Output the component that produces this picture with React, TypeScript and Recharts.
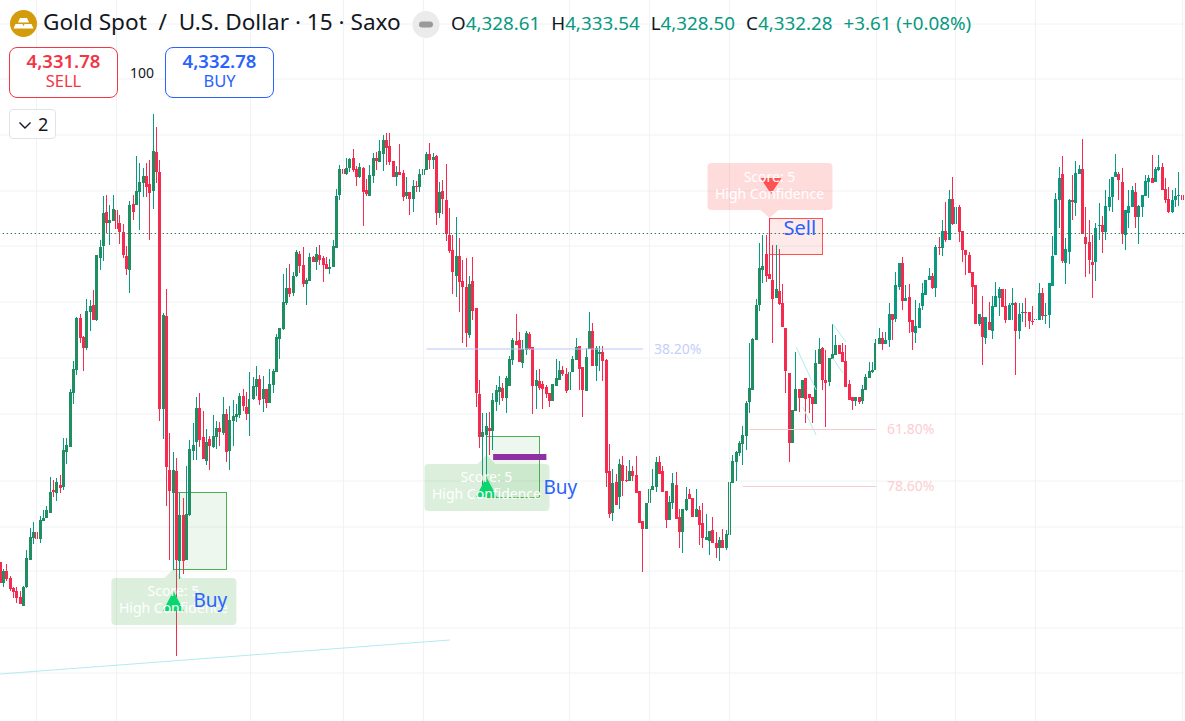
import React from "react";
import { ComposedChart, Bar, XAxis, YAxis, CartesianGrid, ReferenceLine, ReferenceArea, ReferenceDot } from "recharts";

const UP = "#089981";
const UP_BODY = "#1f8f62";
const DOWN = "#f42b4f";
const FONT = "'Noto Sans', sans-serif";

type Row = [number, number, number, number];

// open, high, low, close
const firstRally: Row[] = [
[4299.8,4299.8,4297.7,4297.7],[4297.7,4299.1,4297.3,4298.9],[4298.9,4299.6,4297.9,4298.1],[4298.2,4298.4,4296.9,4297.1],[4297.2,4297.3,4296.2,4296.8],[4296.9,4297.3,4295.7,4296.2],[4296.3,4296.9,4295.6,4295.6],[4295.4,4297.4,4295.4,4297.3],[4297.3,4301,4297.2,4300.2],[4300,4303.2,4300,4302.3],
[4302.2,4303.8,4301.6,4302.8],[4302.8,4303.7,4301.6,4302.1],[4302.1,4304.4,4301.7,4304],[4303.9,4305,4303.9,4304.2],[4304.2,4305.4,4304.2,4305],[4304.7,4308.3,4304.7,4306.8],[4307,4308,4306.3,4306.8],[4306.7,4308.2,4305.9,4307.8],[4307.5,4308.5,4306.7,4307.2],[4307.3,4312.2,4307,4311],
[4310.8,4312.2,4309.6,4311.5],[4311.3,4317.1,4311.3,4316.8],[4316.7,4319.9,4315.6,4319.1],[4319,4324.3,4318.5,4324.2],[4324.2,4324.6,4321.7,4322.2],[4322.3,4322.4,4318.9,4321.2],[4321.2,4326.1,4321,4324.9],[4324.8,4326,4322.9,4325.4],[4325.5,4327,4324,4324],[4324,4330.5,4323.9,4330.5],
[4330.2,4332,4329,4331.3],[4331.4,4336.4,4329.9,4334.7],[4334.8,4336.5,4332.7,4333.7],[4333.7,4335.5,4331.5,4334],[4333.9,4336.5,4333.9,4335.1],[4335,4336.5,4332.5,4333.1],[4333.7,4334.5,4331.6,4332.8],[4332.8,4333.6,4330.2,4330.5],[4330.4,4331.4,4328.5,4329.1],[4329,4335.9,4326.7,4335.5],
[4335.6,4336.5,4334,4334.8],[4335.5,4340.4,4335.5,4336.9],[4336.8,4339.7,4333,4337.8],[4337.7,4339.2,4336.3,4338.4],[4338.4,4339.7,4336.3,4337.3],[4337.6,4340,4332,4336.7],[4336.9,4344.6,4335.1,4340.9],[4340.8,4343.3,4337.7,4338.8],
];
const firstCrash: Row[] = [
[4338.8,4340,4313.9,4315.1],[4315.1,4324.7,4312.1,4324.5],[4324.4,4327.1,4305.4,4309.3],[4309,4312.7,4300,4306.9],[4306.7,4310.8,4299,4309],[4308.9,4310.2,4290.4,4300],[4299.9,4306.7,4298.1,4304.5],[4304.5,4306.2,4298.6,4299.9],[4300,4309.4,4300,4304.6],[4304.5,4312,4304.4,4311.1],
[4310.9,4313.7,4310,4311.5],[4311.8,4316.3,4310,4315.2],[4315.2,4316.7,4311.3,4312],[4312.3,4314.9,4310.1,4310.1],[4309.9,4313.1,4309.5,4311.8],[4312.1,4312.4,4309,4311.4],[4311.3,4314.5,4311.2,4312.4],[4312.3,4313.9,4311.1,4313.2],[4313.2,4313.8,4311.4,4312.8],[4312.7,4316.3,4312.5,4314.6],
[4314.6,4315.1,4309.8,4310.8],[4310.9,4315.4,4309,4314],[4313.9,4316,4311.4,4314.4],[4314.3,4315.6,4313.8,4314.6],[4314.5,4316.7,4314.2,4316.4],[4316.4,4317.1,4314.9,4315.4],[4315.3,4316.8,4314,4314.6],[4314.6,4318.8,4312.4,4316.1],[4316.1,4318.3,4316,4317.4],[4317.3,4319.4,4316.4,4318.1],
[4318.1,4318.5,4315.5,4316],[4316.1,4318.4,4314.8,4317.1],[4317.1,4317.1,4315.2,4315.7],[4315.7,4319.1,4315.7,4317.6],[4317.5,4319.1,4316.7,4318.9],[4318.8,4322.6,4318.8,4322.3],[4322.1,4323.2,4320.1,4323.2],[4323.1,4328.6,4323,4325.8],[4325.7,4329.2,4325.5,4327.2],[4327.2,4329.6,4326.3,4326.6],
[4326.7,4328.8,4326.4,4328.4],[4328.4,4331,4328.3,4330.8],[4330.6,4330.9,4328.7,4329.4],[4329.5,4331.3,4327.3,4327.6],[4327.6,4328.2,4325.5,4328],[4327.9,4330.7,4327.9,4330.3],[4330.3,4330.4,4329.8,4329.8],[4329.8,4331.3,4329,4330.6],[4330.5,4331.5,4329.5,4330],[4330.2,4330.4,4327.8,4329.5],
[4329.6,4330.3,4329.1,4329.1],[4329.1,4330.1,4328.6,4329.3],
];
const secondTop: Row[] = [
[4329.3,4332,4329.3,4331.4],[4331.2,4337.1,4331.2,4336.4],[4336.5,4339.5,4336,4339.1],[4339.1,4340.2,4336.7,4338.6],[4338.6,4340.2,4338.5,4339.2],[4339.2,4340.2,4338.8,4340.1],[4340.2,4341.1,4338.8,4339],[4339.1,4339.4,4337.4,4338.3],[4338.3,4339.7,4338.2,4339.3],[4339.2,4339.3,4333.4,4336.8],
[4337,4338.1,4336.4,4336.6],[4336.4,4339.5,4336.4,4338.5],[4338.4,4340.7,4337.7,4340.2],[4340.2,4340.8,4339,4339.9],[4339.8,4342,4339.8,4340.9],[4340.6,4342.5,4338.9,4342],[4342,4342.7,4339.5,4341.2],[4341.4,4342.7,4339.5,4339.8],[4339.9,4339.9,4338.3,4338.3],[4338.3,4339.4,4337.4,4338.8],
[4338.8,4341.6,4338.5,4338.5],[4338.7,4339,4335.9,4336.3],[4336.4,4338.3,4336.1,4336.8],[4336.8,4336.8,4334.5,4336.1],[4336.1,4338,4334.8,4337.4],[4337.4,4337.9,4336.8,4337.3],[4337.3,4339.1,4336.8,4338.6],[4338.5,4339.1,4338.5,4339.1],[4339,4340.8,4339,4340.6],[4340.6,4341.7,4339.1,4340],
[4340,4340.7,4339.1,4340.3],
];
const secondDrop: Row[] = [
[4340.4,4340.5,4333.5,4334.7],[4334.7,4337.8,4334.2,4336.8],[4336.9,4338,4334.6,4336.1],[4336,4339.6,4331.9,4332.6],[4332.5,4335.2,4330.7,4330.9],[4331,4332.5,4326.6,4328.8],[4328.4,4334.3,4326.3,4330.4],[4330.4,4332.2,4324.8,4327.8],[4327.9,4330,4321.7,4327.3],[4327.3,4330.2,4321.3,4322.7],
[4322.5,4328.4,4322.2,4327.6],[4327.9,4330.3,4324,4324.9],[4325.2,4325.2,4315.3,4316.7],[4316.6,4318,4311.2,4312.3],[4312.3,4314.7,4307.3,4312.8],[4312.5,4314.7,4307.3,4313.4],[4313.2,4314.8,4310.5,4312.9],[4312.9,4316.7,4311,4316],[4315.8,4317.5,4314.9,4317],[4316.8,4318.4,4315.5,4317.3],
[4317.2,4317.7,4315.9,4316.2],[4316.2,4318.4,4314.7,4318.2],[4317.4,4320.4,4317.4,4320.1],[4320,4322.2,4319.5,4322],[4321.9,4324.6,4321.5,4321.5],[4322,4322.8,4319.8,4319.8],[4319.7,4322,4319.2,4321.1],[4321,4322.9,4320.5,4322.7],[4322.6,4322.8,4321,4321.1],[4321.3,4321.3,4314.6,4317.4],
[4317.4,4319,4315.1,4318],[4317.9,4319.1,4317,4317.2],[4317.6,4317.9,4315.1,4317.1],[4317.3,4317.5,4316.2,4316.6],[4316.7,4316.7,4315.3,4315.9],[4315.9,4317.6,4315.9,4317.6],[4317.4,4320.1,4317.4,4318.2],[4318,4319.9,4318,4319],[4319,4319.4,4318.4,4318.6],[4318.6,4319.2,4316.7,4316.9],
[4317,4320.1,4316.2,4318.8],[4318.8,4320.4,4318.8,4320.1],[4320,4322.2,4320,4321.3],[4321.4,4321.4,4317,4319.1],[4319.3,4319.3,4314.3,4317],[4316.9,4321.2,4316.9,4320.3],[4321.1,4324.8,4321.1,4322.9],[4322.9,4323.7,4319.4,4319.4],[4319.4,4321.4,4317.9,4321.2],[4320.6,4321.4,4318.9,4320.8],
[4320.8,4321.4,4317.9,4319.9],
];
const thirdBase: Row[] = [
[4320,4320.1,4307.3,4308.7],[4308.9,4311.6,4304.2,4304.6],[4304.7,4309.1,4303.9,4307.7],[4307.8,4308.6,4305.5,4305.5],[4306.3,4310.1,4305.1,4309.6],[4309.5,4310.4,4306.4,4307.9],[4308,4309.4,4307.8,4307.9],[4307.9,4310,4307.9,4308.9],[4308.9,4309.4,4307.9,4308.4],[4308.5,4310.4,4306.7,4306.7],
[4306.9,4306.9,4303.7,4303.7],[4303.9,4303.9,4298.8,4303.1],[4303.1,4305.7,4303.1,4305.7],[4305.7,4308.3,4304.9,4307.1],[4307,4309.1,4307,4307.4],[4307.3,4310.3,4306.8,4309.8],[4309.8,4310.4,4308.6,4308.6],[4308.9,4309.4,4306.8,4306.8],[4306.9,4306.9,4303.2,4304],[4304,4306.4,4304,4305.8],
[4305.7,4308.7,4305.1,4307.7],[4307.5,4308.8,4304.1,4304.1],[4304.3,4305.1,4301.2,4302.8],[4302.8,4305.1,4300.7,4305.1],[4305,4307.3,4304.9,4306.1],[4306.6,4307.1,4306.1,4306.1],[4306.2,4306.2,4304.3,4304.3],[4304.3,4307.1,4304.3,4305.1],[4305,4305.4,4301.5,4303.5],[4303.7,4305.7,4301.2,4302.2],
[4302,4304.6,4302,4302.3],[4301.9,4302.9,4300.5,4302.9],[4303,4304.3,4301.7,4301.7],[4301.7,4302.8,4300.2,4301.2],[4301.2,4302.3,4299.9,4302],[4302,4303.1,4301.2,4301.2],[4301.2,4303,4301,4302.6],
];
const vRecovery: Row[] = [
[4302.5,4308.4,4301.6,4307.8],[4307.7,4310.5,4307.7,4309.9],[4309.8,4310.9,4307.9,4310.8],[4310.7,4311.9,4310.4,4311.7],[4311.6,4313.4,4309.5,4312.5],[4312.4,4315.9,4311,4315.7],[4315.8,4321.7,4314.7,4317.2],[4317,4322.2,4317,4322.1],[4322,4326.1,4322,4325.5],[4325.5,4331.7,4324.9,4329.2],
[4329,4332.5,4327.7,4329.4],[4330.6,4332.5,4327.8,4328.4],[4328.6,4334.2,4328.1,4328.1],[4328,4331.5,4321.7,4326.1],[4326.2,4331.5,4326.2,4327.1],[4326.9,4331.1,4325.5,4325.6],[4325.7,4327.6,4323.3,4323.3],[4323.2,4323.2,4316.7,4318.9],[4318.7,4318.7,4309.8,4311.7],[4311.7,4315,4311.7,4315],
[4314.9,4320.8,4314.9,4317.1],[4317.1,4317.1,4314.8,4316.2],[4316.2,4318,4316.2,4318],[4318.2,4318.2,4313.7,4316.1],[4316.6,4316.6,4314.7,4316.2],[4316.3,4316.3,4313.7,4315.6],[4315.6,4321,4315.6,4319.7],[4319.6,4322.2,4319.6,4321.1],[4321.2,4321.3,4317,4318],[4318,4321,4313.3,4317.7],
[4317.8,4320.2,4317.4,4320.2],[4320.1,4323.6,4320.1,4320.6],[4320.5,4322.5,4320.5,4321.5],[4321.5,4321.5,4320.6,4320.6],[4320.8,4321.7,4319.8,4319.8],[4319.9,4321.5,4317.3,4317.3],[4317.6,4318,4316,4316],[4316.3,4316.3,4315,4315.9],[4315.9,4316.3,4315.4,4316.3],[4316.3,4316.3,4315.6,4315.8],
[4315.9,4317.5,4315.6,4317.1],[4317,4318.6,4317,4318.3],[4318.2,4319.8,4318.2,4318.9],[4318.8,4319.8,4318.7,4319],[4319,4322.1,4319,4321.7],[4321.6,4323.2,4321.6,4322.2],[4322.2,4322.8,4321,4321.6],[4321.6,4322.8,4321.6,4322],
];
const lateClimb: Row[] = [
[4322,4325.7,4321.3,4324.6],[4324.6,4324.6,4322,4324],[4324.1,4328.8,4323.8,4327.5],[4327.3,4329.7,4327,4329.7],[4329.7,4330.3,4325,4325.9],[4325.9,4327.5,4325.9,4326.2],[4326.3,4327.6,4322.7,4323.8],[4324,4324,4321,4322.8],[4322.7,4326,4321.7,4323.4],[4323.2,4325.7,4323.2,4325.2],
[4325.4,4327.7,4325,4326.7],[4326.5,4328,4326.5,4328],[4328,4329.2,4328,4328.4],[4328.4,4328.7,4327.1,4327.2],[4327.2,4331.5,4326.3,4331.3],[4331.3,4332.3,4330.5,4331.2],[4331.2,4334,4330.4,4332.9],[4332.9,4335.8,4331.8,4332],[4332,4337,4332,4336.1],[4336.1,4338.3,4333.5,4333.6],
[4333.6,4335.5,4332.4,4335.3],[4335.3,4335.5,4331.8,4332.8],[4332.9,4332.9,4329.8,4331],[4331,4331,4328.5,4330.5],[4330.5,4330.8,4328.7,4328.7],[4328.8,4328.8,4325.6,4327.3],[4327.5,4327.5,4323.6,4323.6],[4323.6,4324.6,4323.4,4324.6],[4324.3,4326.4,4319.5,4322.3],[4322.2,4324.3,4321.6,4324.3],
[4323.8,4325.8,4323,4323],[4322.9,4326.4,4322.1,4325.4],[4325.3,4327.8,4325.3,4326.4],[4326.2,4327.3,4324.4,4327.1],[4327.1,4327.1,4325.3,4325.3],[4325.4,4327.1,4323.7,4324],[4324,4325.7,4324,4325.5],[4325.5,4327.2,4324,4325.7],[4325.7,4325.8,4318.5,4322.9],[4322.9,4325.7,4322.1,4324.6],
[4324.7,4325.7,4323.8,4324.8],[4324.8,4326.2,4323.3,4324.7],[4324.8,4324.8,4323.1,4323.9],[4323.9,4325.4,4323.5,4323.8],[4324,4324.7,4323,4324.1],[4324,4327.7,4324,4326.7],[4326.7,4327.2,4324,4324.4],[4324.4,4325.7,4323.6,4324.5],[4324.5,4327.7,4323.2,4327.7],
];
const finalRange: Row[] = [
[4327.4,4332.4,4327.4,4330.4],[4330.5,4336.7,4330.5,4336.1],[4336,4339.3,4333.2,4338.2],[4338.6,4340.4,4329.7,4329.9],[4329.7,4332.2,4327.6,4331.1],[4330.8,4336.1,4329.6,4336],[4336,4338.5,4334,4335.8],[4335.7,4339.9,4334.4,4338.7],[4338.6,4339.5,4338.6,4339.1],[4339.1,4342.1,4332.6,4332.6],
[4332.3,4335.3,4328.3,4331.6],[4331.8,4334,4328.6,4330],[4329.8,4332.5,4326.2,4329.5],[4329.8,4333.7,4327.9,4333.2],[4333.4,4335.7,4332,4333.5],[4333.5,4334.4,4330.7,4332.8],[4332.8,4337,4332,4335.4],[4335.3,4338.1,4334.9,4336.3],[4336.3,4338.3,4334.8,4338.3],[4338.3,4340.6,4338.3,4338.8],
[4338.6,4338.8,4336,4338],[4337.8,4339.2,4331.6,4332.6],[4332.5,4335,4331,4335],[4334.7,4337,4333.2,4335.4],[4335.3,4337.4,4335.3,4337],[4336.8,4337.7,4333.2,4334.3],[4334.3,4335.5,4331.6,4335.4],[4335.3,4336.5,4334.3,4336.5],[4336.4,4338.5,4336.4,4337.9],[4337.8,4338.5,4336.2,4338.2],
[4338.2,4340.5,4337.7,4337.7],[4337.8,4339.3,4337.8,4339.1],[4339,4340.5,4338.9,4339.3],[4339.3,4339.7,4337,4337],[4337.1,4338.2,4335.7,4336],[4336.1,4337.3,4334.7,4334.8],[4334.8,4337,4334.7,4336],[4336,4337.2,4335.3,4336.4],[4336.4,4338.8,4335.4,4336.5],[4336.5,4337.7,4335.2,4336],
];

const rows: Row[] = [...firstRally, ...firstCrash, ...secondTop, ...secondDrop, ...thirdBase, ...vRecovery, ...lateClimb, ...finalRange];
const data = rows.map(([o, h, l, c], i) => ({ i, o, h, l, c, range: [l, h] }));

const priceGrid = [4353.6, 4348.1, 4342.5, 4336.9, 4331.4, 4325.8, 4320.2, 4314.6, 4307.9, 4303.3, 4298.9, 4293.2, 4288.7];
const timeGrid = [11, 35, 75, 103, 127, 171, 195, 219, 263, 287, 311, 355];
const currentPrice = 4332.65;
const GRID = "#f1f2f4";

const legend = { symbol: "Gold Spot  /  U.S. Dollar · 15 · Saxo", o: "4,328.61", h: "4,333.54", l: "4,328.50", c: "4,332.28", change: "+3.61 (+0.08%)" };
const sellPrice = "4,331.78";
const buyPrice = "4,332.78";
const quantity = "100";
const indicatorCount = "2";

function Candle(props: any) {
  const { x, y, width, height, payload } = props;
  const { i, o, h, l, c } = payload;
  const unit = h > l ? height / (h - l) : 0;
  const up = c >= o;
  const cx = Math.floor(x + width / 2);
  const top = y + (h - Math.max(o, c)) * unit;
  const bh = Math.max(1, Math.abs(c - o) * unit);
  return (
    <g shapeRendering="crispEdges">
      <rect x={cx} y={y} width={1} height={Math.max(1, height)} fill={up ? UP : DOWN} />
      <rect x={cx - 1} y={top} width={3} height={bh} fill={up ? (i < 266 ? UP_BODY : UP) : DOWN} />
    </g>
  );
}

function ZoneRect(props: any) {
  const { x, y, width, height, fill, stroke } = props;
  return <rect x={Math.round(x + 1.6) + 0.5} y={Math.round(y) + 0.5} width={Math.round(width - 3.2)} height={Math.round(height)} fill={fill} fillOpacity={props.fillOpacity} stroke={stroke} />;
}

const GREEN_BOX = "rgba(76,175,80,0.2)";
const RED_BOX = "rgba(255,82,82,0.2)";

function ScoreBox({ cx, cy, down }: any) {
  const fill = down ? RED_BOX : GREEN_BOX;
  const near = down ? cy - 8 : cy + 9;
  const boxTop = down ? cy - 55 : cy + 9;
  return (
    <g>
      <rect x={cx - 62} y={boxTop} width={125} height={47} rx={4} fill={fill} />
      <path d={`M${cx} ${cy} L${cx - 9} ${near} L${cx + 9} ${near} Z`} fill={fill} />
      {down ? (
        <path d={`M${cx - 9} ${boxTop + 15} L${cx + 12} ${boxTop + 15} L${cx + 1.5} ${boxTop + 31} Z`} fill="#ff5252" />
      ) : (
        <path d={`M${cx - 10.5} ${boxTop + 33} L${cx + 10.5} ${boxTop + 33} L${cx} ${boxTop + 13} Z`} fill="#0ad66f" />
      )}
      <text x={cx} y={boxTop + (down ? 19 : 18)} textAnchor="middle" fontFamily={FONT} fontSize={14} fill="#fff">Score: 5</text>
      <text x={cx} y={boxTop + (down ? 36 : 35)} textAnchor="middle" fontFamily={FONT} fontSize={14} fill="#fff">High Confidence</text>
    </g>
  );
}

const Lbl = (txt: string, dx: number, color: string, size: number) => (p: any) => (
  <text x={p.cx + dx} y={p.cy + size * 0.35} fontFamily={FONT} fontSize={size} fill={color}>{txt}</text>
);

const abs = (left: number, top: number, extra: any = {}): any => ({ position: "absolute", left, top, whiteSpace: "pre", fontFamily: FONT, lineHeight: 1, ...extra });

function Legend() {
  const g = { color: UP };
  return (
    <>
      <svg style={{ position: "absolute", left: 10, top: 10 }} width={27} height={27}>
        <circle cx={13.5} cy={13.5} r={13.5} fill="#d49b0b" />
        <path d="M10 8 h7 l2 4.5 h-11 Z M5.5 14 h7 l2 4.5 h-11 Z M14.5 14 h7 l2 4.5 h-11 Z" fill="#fff" />
      </svg>
      <div style={abs(43, 11, { fontSize: 22.6, color: "#131722" })}>{legend.symbol}</div>
      <svg style={{ position: "absolute", left: 412, top: 11 }} width={28} height={27}>
        <circle cx={14} cy={13.5} r={13.5} fill="#ebebeb" />
        <rect x={7} y={10.5} width={14} height={6} rx={3} fill="#9a9a9a" />
      </svg>
      <div style={abs(451, 14, { fontSize: 18.8, color: "#131722" })}>
        O<span style={g}>{legend.o}</span>
        <span style={{ marginLeft: 11 }}>H</span><span style={g}>{legend.h}</span>
        <span style={{ marginLeft: 11 }}>L</span><span style={g}>{legend.l}</span>
        <span style={{ marginLeft: 11 }}>C</span><span style={g}>{legend.c}</span>
        <span style={{ ...g, marginLeft: 11 }}>{legend.change}</span>
      </div>
      <div style={abs(9, 47, { width: 109, height: 51, boxSizing: "border-box", border: "1px solid #f23645", borderRadius: 8, background: "#fff", color: "#f23645", textAlign: "center" })}>
        <div style={{ fontSize: 18.5, fontWeight: 600, marginTop: 4 }}>{sellPrice}</div>
        <div style={{ fontSize: 16.5, marginTop: 2 }}>SELL</div>
      </div>
      <div style={abs(130, 66, { fontSize: 14, color: "#131722" })}>{quantity}</div>
      <div style={abs(165, 47, { width: 109, height: 51, boxSizing: "border-box", border: "1px solid #2962ff", borderRadius: 8, background: "#fff", color: "#2962ff", textAlign: "center" })}>
        <div style={{ fontSize: 18.5, fontWeight: 600, marginTop: 4 }}>{buyPrice}</div>
        <div style={{ fontSize: 16.5, marginTop: 2 }}>BUY</div>
      </div>
      <div style={abs(9, 109, { width: 47, height: 30, boxSizing: "border-box", border: "1px solid #e0e3eb", borderRadius: 4, background: "#fff" })}>
        <svg style={{ position: "absolute", left: 8, top: 11 }} width={14} height={9}>
          <path d="M1.5 1.5 L7 7 L12.5 1.5" fill="none" stroke="#131722" strokeWidth={1.4} />
        </svg>
        <span style={{ position: "absolute", left: 28, top: 5, fontSize: 18, color: "#131722" }}>{indicatorCount}</span>
      </div>
    </>
  );
}

export default function App() {
  return (
    <div style={{ position: "absolute", left: 0, top: 0, width: 1185, height: 721, overflow: "hidden", background: "#fff" }}>
      <ComposedChart width={1185} height={721} data={data} margin={{ top: 0, right: 0.9, bottom: 0, left: -1.4 }} barCategoryGap={0} barGap={0}>
        <CartesianGrid stroke={GRID} vertical={false} horizontalValues={priceGrid} />
        <XAxis dataKey="i" hide type="category" />
        <YAxis hide type="number" domain={[4283.9, 4356]} allowDataOverflow />
        {timeGrid.map((k) => <ReferenceLine key={k} x={k} stroke={GRID} shapeRendering="crispEdges" />)}
        <ReferenceLine stroke="#b2ebf2" ifOverflow="visible" segment={[{ x: 0, y: 4288.6 }, { x: 135, y: 4292 }]} />
        <ReferenceLine stroke="#b2ebf2" segment={[{ x: 239, y: 4321.3 }, { x: 245, y: 4317 }]} />
        <ReferenceLine stroke="#b2ebf2" segment={[{ x: 241, y: 4315.3 }, { x: 245, y: 4312.5 }]} />
        <ReferenceLine stroke="#b2ebf2" segment={[{ x: 250, y: 4323.6 }, { x: 254, y: 4321.8 }]} />
        <ReferenceLine stroke="#b2ebf2" segment={[{ x: 250, y: 4320.2 }, { x: 253, y: 4318.7 }]} />
        <Bar dataKey="range" shape={Candle} isAnimationActive={false} />
        <ReferenceLine y={currentPrice} stroke="#3f7a4c" strokeDasharray="1.5 2.5" />
        <ReferenceLine stroke="#b8c7f7" segment={[{ x: 128, y: 4321.1 }, { x: 193, y: 4321.1 }]} />
        <ReferenceLine stroke="#fbc9cd" segment={[{ x: 225, y: 4313.05 }, { x: 263, y: 4313.05 }]} />
        <ReferenceLine stroke="#fbc9cd" segment={[{ x: 223, y: 4307.35 }, { x: 263, y: 4307.35 }]} />
        <ReferenceDot x={193} y={4321.1} ifOverflow="visible" shape={Lbl("38.20%", 11, "#c3d0f7", 14)} />
        <ReferenceDot x={263} y={4313.05} ifOverflow="visible" shape={Lbl("61.80%", 11, "#fbcdd1", 14)} />
        <ReferenceDot x={263} y={4307.4} ifOverflow="visible" shape={Lbl("78.60%", 11, "#fbcdd1", 14)} />
        <ReferenceArea x1={52} x2={68} y1={4299.1} y2={4306.8} fill="#4caf50" fillOpacity={0.1} stroke="#4caf50" shape={ZoneRect} />
        <ReferenceArea x1={146} x2={162} y1={4306.3} y2={4312.4} fill="#4caf50" fillOpacity={0.1} stroke="#4caf50" shape={ZoneRect} />
        <ReferenceArea x1={231} x2={247} y1={4330.6} y2={4334.2} fill="#ff5252" fillOpacity={0.12} stroke="#ff5252" shape={ZoneRect} />
        <ReferenceLine stroke="#9030a5" strokeWidth={6} segment={[{ x: 148, y: 4310.3 }, { x: 164, y: 4310.3 }]} />
        <ReferenceDot x={52} y={4299.1} ifOverflow="visible" shape={(p: any) => <ScoreBox cx={p.cx} cy={p.cy} />} />
        <ReferenceDot x={146} y={4310.5} ifOverflow="visible" shape={(p: any) => <ScoreBox cx={p.cx} cy={p.cy} />} />
        <ReferenceDot x={231} y={4334.2} ifOverflow="visible" shape={(p: any) => <ScoreBox cx={p.cx} cy={p.cy} down />} />
        <ReferenceDot x={52} y={4296} ifOverflow="visible" shape={Lbl("Buy", 20, "#2962ff", 19)} />
        <ReferenceDot x={146} y={4307.3} ifOverflow="visible" shape={Lbl("Buy", 57, "#2962ff", 19)} />
        <ReferenceDot x={231} y={4333.2} ifOverflow="visible" shape={Lbl("Sell", 14, "#2962ff", 20)} />
      </ComposedChart>
      <Legend />
    </div>
  );
}
